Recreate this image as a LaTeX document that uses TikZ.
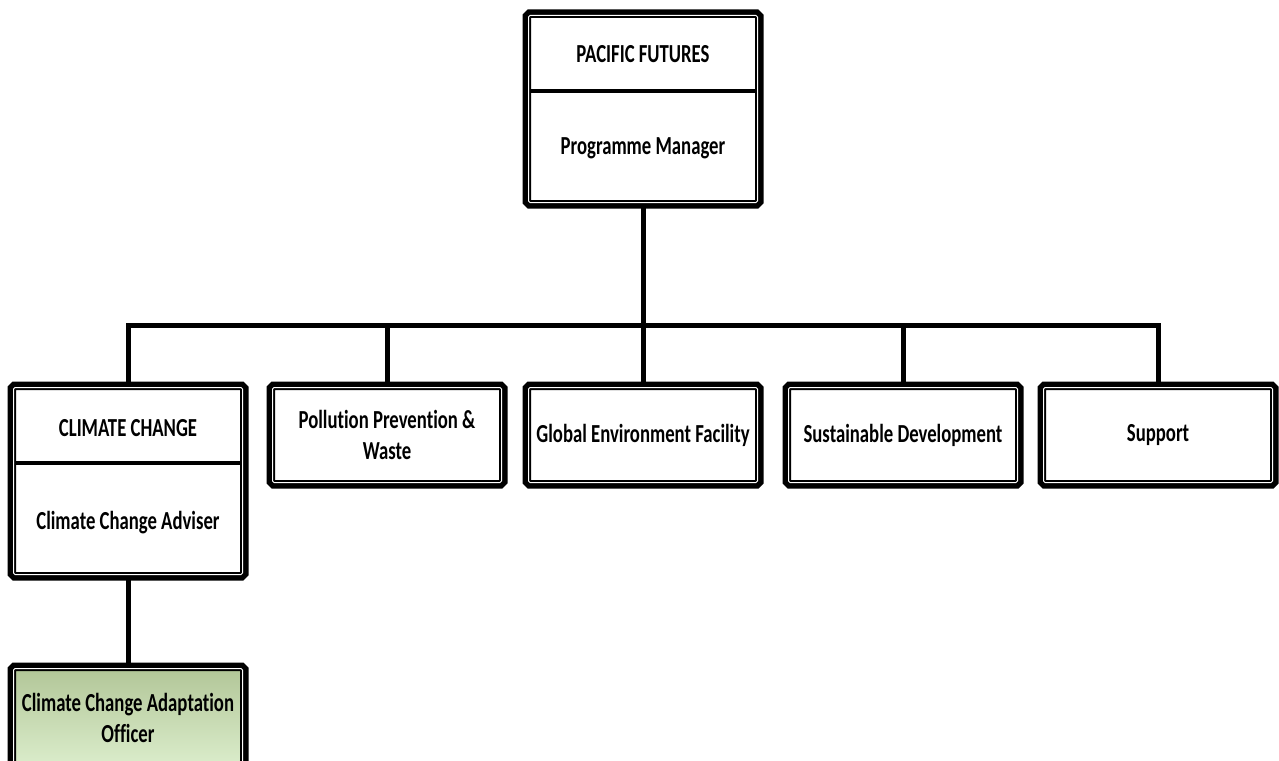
\documentclass[tikz,border=0pt]{standalone}
\usepackage{fontspec}
\setmainfont{Carlito}[FakeStretch=0.72, Ligatures=NoCommon]
\usepackage{xcolor}
\usetikzlibrary{positioning}
\definecolor{officertop}{RGB}{178,198,152}
\definecolor{officerbottom}{RGB}{218,236,202}

\begin{document}
\begin{tikzpicture}[x=1pt, y=-1pt,
        orgbox/.style={rectangle, inner sep=0pt, minimum width=229pt, minimum height=95pt,
            fill=white, rounded corners=1.5pt,
            preaction={draw=black, line width=12pt},
            draw=black, line width=2pt, double=white, double distance=1pt},
        boxtext/.style={font=\bfseries\fontsize{26}{31}\selectfont, align=center, inner sep=0pt},
        link/.style={draw=black, line width=5pt},
        divider/.style={draw=black, line width=4pt}]
        \useasboundingbox (0,0) rectangle (1279,760);

        % Programme lead
        \node[orgbox, minimum height=187pt] (pf) at (643,109) {};
        \node[boxtext] (pfhead) at (643,54) {PACIFIC FUTURES};
        \node[boxtext] (pfrole) at (643,148) {Programme Manager};
        \draw[divider] ([xshift=3pt]pf.west |- 0,91) -- ([xshift=-3pt]pf.east |- 0,91);

        % Teams
        \node[orgbox, minimum height=187pt] (cc) at (128,481) {};
        \node[boxtext] (cchead) at (128,428) {CLIMATE CHANGE};
        \node[boxtext] (ccrole) at (128,523) {Climate Change Adviser};
        \draw[divider] ([xshift=3pt]cc.west |- 0,463) -- ([xshift=-3pt]cc.east |- 0,463);

        \node[orgbox] (ppw) at (387,435) {};
        \node[boxtext] at (ppw) {Pollution Prevention \&\\Waste};

        \node[orgbox] (gef) at (643,435) {};
        \node[boxtext] at (gef) {Global Environment Facility};

        \node[orgbox] (sd) at (903,435) {};
        \node[boxtext] at (sd) {Sustainable Development};

        \node[orgbox] (sup) at (1158,435) {};
        \node[boxtext] at (sup) {Support};

        % Officer
        \node[orgbox, top color=officertop, bottom color=officerbottom] (cca) at (128,716) {};
        \node[boxtext] at (128,718) {Climate Change Adaptation\\Officer};

        % Links
        \coordinate (bus) at (643,325);
        \draw[link] (pf.south) -- (bus);
        \draw[link] (cc.north) |- (bus);
        \draw[link] (ppw.north) |- (bus);
        \draw[link] (gef.north) -- (bus);
        \draw[link] (sd.north) |- (bus);
        \draw[link] (sup.north) |- (bus);
        \draw[link] (cc.south) -- (cca.north);
    \end{tikzpicture}
\end{document}
